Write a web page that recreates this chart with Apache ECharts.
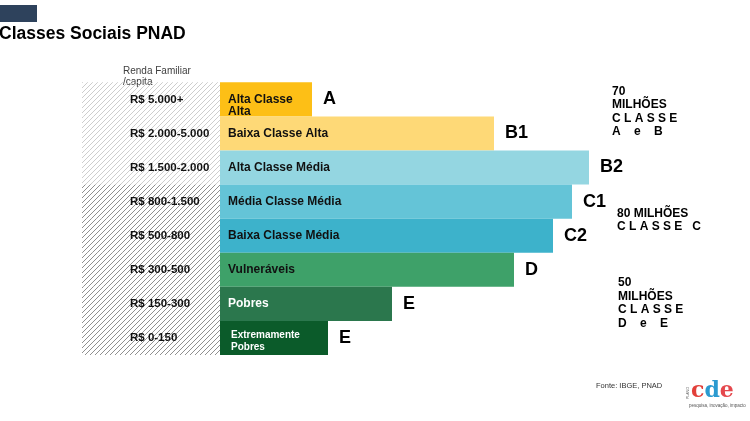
<!DOCTYPE html>
<html>
<head>
<meta charset="utf-8">
<script src="https://cdn.jsdelivr.net/npm/echarts@6/dist/echarts.min.js"></script>
<style>html,body{margin:0;padding:0;background:#fff}#c{width:750px;height:421px}</style>
</head>
<body>
<div id="c"></div>
<script>
// ---- data ----
const incomeBrackets = ['R$ 5.000+', 'R$ 2.000-5.000', 'R$ 1.500-2.000', 'R$ 800-1.500', 'R$ 500-800', 'R$ 300-500', 'R$ 150-300', 'R$ 0-150'];
const classNames = ['Alta Classe\nAlta', 'Baixa Classe Alta', 'Alta Classe Média', 'Média Classe Média', 'Baixa Classe Média', 'Vulneráveis', 'Pobres', 'Extremamente\nPobres'];
const classLetters = ['A', 'B1', 'B2', 'C1', 'C2', 'D', 'E', 'E'];
const barLengths = [92, 274, 369, 352, 333, 294, 172, 108];
const groupNotes = ['70\nMILHÕES\nC L A S S E\nA    e    B', '80 MILHÕES\nC L A S S E   C', '50\nMILHÕES\nC L A S S E\nD    e    E'];

// ---- styles ----
const barColors = ['#FDBF16', '#FED977', '#94D6E1', '#64C4D7', '#3DB2CB', '#3EA169', '#2B774D', '#0B5B2A'];
const nameColors = ['#111', '#111', '#111', '#111', '#111', '#111', '#fff', '#fff'];
const X_MIN = -138, X_MAX = 370;

function hatch(color) {
  const n = 5;
  const c = document.createElement('canvas');
  c.width = n; c.height = n;
  const g = c.getContext('2d');
  g.fillStyle = color;
  for (let i = 0; i < n; i++) g.fillRect(i, n - 1 - i, 1, 1);
  return { image: c, repeat: 'repeat' };
}
const hatchLight = hatch('#cdcdcd');
const hatchDark = hatch('#8f8f8f');

const bgData = incomeBrackets.map((b, i) => ({
  value: X_MIN,
  itemStyle: { color: i < 3 ? hatchLight : hatchDark }
}));

const mainData = barLengths.map((v, i) => {
  const lbl = { color: nameColors[i] };
  if (classNames[i].indexOf('\n') >= 0 && i === 0) { lbl.offset = [0, 6]; lbl.lineHeight = 12; }
  if (classNames[i].indexOf('\n') >= 0 && i !== 0) { lbl.fontSize = 10; lbl.lineHeight = 12; lbl.distance = 11; lbl.offset = [0, 3]; }
  return { value: v, name: classNames[i], itemStyle: { color: barColors[i] }, label: lbl };
});

const letterData = barLengths.map((v, i) => ({ value: v, name: classLetters[i] }));

const chart = echarts.init(document.getElementById('c'), null, { renderer: 'canvas' });
chart.setOption({
  animation: false,
  backgroundColor: '#fff',
  title: {
    text: 'Classes Sociais PNAD', left: -1, top: 25, padding: 0,
    textStyle: { fontFamily: 'Liberation Sans', fontSize: 17.5, fontWeight: 'bold', color: '#000' }
  },
  grid: { left: 82, top: 82.3, width: 508, height: 272.7 },
  xAxis: { type: 'value', min: X_MIN, max: X_MAX, show: false },
  yAxis: {
    type: 'category', inverse: true, data: incomeBrackets,
    axisLine: { show: false }, axisTick: { show: false }, axisLabel: { show: false }, splitLine: { show: false }
  },
  series: [
    {
      type: 'bar', data: bgData, barWidth: '100%', silent: true,
      label: {
        show: true, position: 'insideLeft', distance: 48, formatter: '{b}',
        fontFamily: 'Liberation Sans', fontSize: 11.5, fontWeight: 'bold', color: '#111'
      }
    },
    {
      type: 'bar', data: mainData, barWidth: '100%', barGap: '-100%', silent: true,
      label: {
        show: true, position: 'insideLeft', distance: 8, formatter: '{b}',
        fontFamily: 'Liberation Sans', fontSize: 12, fontWeight: 'bold'
      }
    },
    {
      type: 'bar', data: letterData, barWidth: '100%', barGap: '-100%', silent: true,
      itemStyle: { color: 'rgba(0,0,0,0)' },
      label: {
        show: true, position: 'right', distance: 11, formatter: '{b}',
        fontFamily: 'Liberation Sans', fontSize: 18, fontWeight: 'bold', color: '#000'
      }
    }
  ],
  graphic: [
    { type: 'rect', shape: { x: 0, y: 5, width: 37, height: 17 }, style: { fill: '#2E425C' } },
    { type: 'text', x: 123, y: 66, style: { text: 'Renda Familiar\n/capita', fontFamily: 'Liberation Sans', fontSize: 10, lineHeight: 11, fill: '#404040' } },
    { type: 'text', x: 612, y: 85, style: { text: groupNotes[0], fontFamily: 'Liberation Sans', fontSize: 12, fontWeight: 'bold', lineHeight: 13.4, fill: '#000' } },
    { type: 'text', x: 617, y: 206.5, style: { text: groupNotes[1], fontFamily: 'Liberation Sans', fontSize: 12, fontWeight: 'bold', lineHeight: 13.4, fill: '#000' } },
    { type: 'text', x: 618, y: 275.5, style: { text: groupNotes[2], fontFamily: 'Liberation Sans', fontSize: 12, fontWeight: 'bold', lineHeight: 13.8, fill: '#000' } },
    { type: 'text', x: 596, y: 382, style: { text: 'Fonte: IBGE, PNAD', fontFamily: 'Liberation Sans', fontSize: 7.5, fill: '#333' } },
    { type: 'text', x: 691, y: 380, style: {
      text: '{c|c}{d|d}{e|e}',
      rich: {
        c: { fontFamily: 'DejaVu Serif', fontSize: 22, fontWeight: 'bold', fill: '#E2403A' },
        d: { fontFamily: 'DejaVu Serif', fontSize: 22, fontWeight: 'bold', fill: '#2A9AD0' },
        e: { fontFamily: 'DejaVu Serif', fontSize: 22, fontWeight: 'bold', fill: '#E5484D' }
      }
    } },
    { type: 'text', x: 689, y: 403, style: { text: 'pesquisa, inovação, impacto', fontFamily: 'Liberation Sans', fontSize: 4.5, fill: '#555' } },
    { type: 'text', x: 686, y: 399, rotation: Math.PI / 2, style: { text: 'PLANO', fontFamily: 'Liberation Sans', fontSize: 3.5, fill: '#666' } }
  ]
});
</script>
</body>
</html>
